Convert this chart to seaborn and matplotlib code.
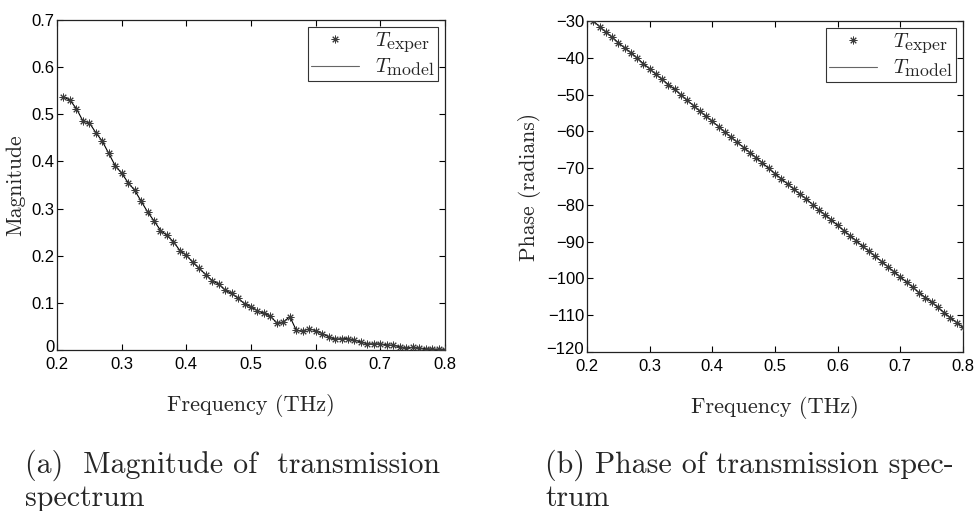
import matplotlib
matplotlib.use("Agg")
import matplotlib.pyplot as plt
import matplotlib._mathtext as _mt
from matplotlib.transforms import ScaledTranslation
import seaborn as sns
import pandas as pd

freq = [0.21, 0.22, 0.23, 0.24, 0.25, 0.26, 0.27, 0.28, 0.29, 0.30,
        0.31, 0.32, 0.33, 0.34, 0.35, 0.36, 0.37, 0.38, 0.39, 0.40,
        0.41, 0.42, 0.43, 0.44, 0.45, 0.46, 0.47, 0.48, 0.49, 0.50,
        0.51, 0.52, 0.53, 0.54, 0.55, 0.56, 0.57, 0.58, 0.59, 0.60,
        0.61, 0.62, 0.63, 0.64, 0.65, 0.66, 0.67, 0.68, 0.69, 0.70,
        0.71, 0.72, 0.73, 0.74, 0.75, 0.76, 0.77, 0.78, 0.79, 0.80]

mag_exper = [0.537, 0.530, 0.512, 0.485, 0.482, 0.461, 0.443, 0.417, 0.390, 0.375,
             0.355, 0.339, 0.316, 0.293, 0.274, 0.253, 0.243, 0.230, 0.211, 0.201,
             0.186, 0.173, 0.160, 0.147, 0.140, 0.127, 0.120, 0.110, 0.098, 0.092,
             0.083, 0.078, 0.072, 0.057, 0.059, 0.071, 0.042, 0.040, 0.045, 0.041,
             0.035, 0.028, 0.023, 0.024, 0.024, 0.021, 0.017, 0.013, 0.013, 0.013,
             0.011, 0.010, 0.007, 0.004, 0.006, 0.004, 0.003, 0.002, 0.002, 0.001]
mag_model = [0.537, 0.530, 0.512, 0.486, 0.482, 0.461, 0.443, 0.417, 0.391, 0.375,
             0.355, 0.339, 0.316, 0.293, 0.274, 0.254, 0.243, 0.230, 0.211, 0.201,
             0.186, 0.173, 0.160, 0.147, 0.140, 0.127, 0.120, 0.110, 0.098, 0.092,
             0.083, 0.078, 0.072, 0.057, 0.059, 0.071, 0.042, 0.040, 0.045, 0.041,
             0.035, 0.028, 0.023, 0.024, 0.024, 0.021, 0.017, 0.013, 0.013, 0.013,
             0.011, 0.010, 0.007, 0.004, 0.006, 0.004, 0.003, 0.002, 0.002, 0.001]

phase_exper = [-30.0, -31.5, -33.0, -34.4, -35.9, -37.3, -38.6, -40.1, -41.6, -43.0,
               -44.5, -45.9, -47.3, -48.6, -50.1, -51.6, -53.0, -54.5, -55.9, -57.3,
               -58.7, -60.2, -61.6, -63.0, -64.4, -65.8, -67.2, -68.6, -70.1, -71.5,
               -72.9, -74.3, -75.7, -77.1, -78.4, -79.9, -81.4, -82.7, -84.1, -85.6,
               -87.0, -88.4, -89.8, -91.3, -92.6, -94.0, -95.4, -96.8, -98.2, -99.6,
               -101.0, -102.4, -103.9, -105.2, -106.4, -107.9, -109.3, -110.7, -112.0, -113.3]
phase_model = [-30.0, -31.5, -33.0, -34.4, -35.9, -37.3, -38.6, -40.1, -41.6, -43.0,
               -44.5, -45.9, -47.3, -48.6, -50.1, -51.6, -53.0, -54.5, -55.9, -57.3,
               -58.7, -60.2, -61.6, -63.0, -64.4, -65.8, -67.2, -68.6, -70.1, -71.5,
               -72.9, -74.3, -75.7, -77.1, -78.4, -79.9, -81.4, -82.7, -84.1, -85.6,
               -87.0, -88.4, -89.8, -91.3, -92.6, -94.0, -95.4, -96.8, -98.2, -99.6,
               -101.0, -102.4, -103.9, -105.2, -106.4, -107.9, -109.3, -110.7, -112.0, -113.3]

mag_yticks = [0, 0.1, 0.2, 0.3, 0.4, 0.5, 0.6, 0.7]
mag_yticklabels = ["0", "0.1", "0.2", "0.3", "0.4", "0.5", "0.6", "0.7"]
phase_yticks = [-120, -110, -100, -90, -80, -70, -60, -50, -40, -30]
phase_yticklabels = ["\u2212120", "\u2212110", "\u2212100", "\u221290", "\u221280",
                     "\u221270", "\u221260", "\u221250", "\u221240", "\u221230"]
xticks = [0.2, 0.3, 0.4, 0.5, 0.6, 0.7, 0.8]
xticklabels = ["0.2", "0.3", "0.4", "0.5", "0.6", "0.7", "0.8"]

label_exper = r"$T_{\mathrm{exper}}$"
label_model = r"$T_{\mathrm{model}}$"
xlabel = "Frequency (THz)"
ylabel_mag = "Magnitude"
ylabel_phase = "Phase (radians)"
caption_a = ["(a)  Magnitude of  transmission", "spectrum"]
caption_b = ["(b) Phase of transmission spec-", "trum"]

# larger subscripts, closer to the reference legend look
_mt.SHRINK_FACTOR = 0.88

sns.set_style("ticks")
plt.rcParams["font.family"] = ["Liberation Sans", "DejaVu Sans"]
plt.rcParams["mathtext.fontset"] = "cm"

fig = plt.figure(figsize=(9.76, 5.11), dpi=100)
ax1 = fig.add_axes([57 / 976, 1 - 350 / 511, 388 / 976, 330 / 511])
ax2 = fig.add_axes([587 / 976, 1 - 352 / 511, 376 / 976, 331 / 511])

df_mag = pd.DataFrame({"f": freq, "exper": mag_exper, "model": mag_model})
df_ph = pd.DataFrame({"f": freq, "exper": phase_exper, "model": phase_model})

asterisk = (8, 2, 0)
serif = "cmr10"

for ax, df, yt, ytl, ylim, yl in [
    (ax1, df_mag, mag_yticks, mag_yticklabels, (0, 0.7), ylabel_mag),
    (ax2, df_ph, phase_yticks, phase_yticklabels, (-120, -30), ylabel_phase),
]:
    sns.lineplot(data=df, x="f", y="exper", ax=ax, marker=asterisk, linestyle="",
                 markersize=5.5, markeredgewidth=0.7, color="#3a3a3a",
                 markeredgecolor="#3a3a3a", label=label_exper, zorder=3)
    sns.lineplot(data=df, x="f", y="model", ax=ax, color="black", linewidth=0.8,
                 label=label_model, zorder=2)
    ax.set_xlim(0.2, 0.8)
    ax.set_ylim(*ylim)
    ax.set_xticks(xticks)
    ax.set_xticklabels(xticklabels)
    ax.set_yticks(yt)
    ax.set_yticklabels(ytl)
    ax.tick_params(direction="in", top=True, right=True, length=4, width=0.8,
                   labelsize=12, colors="black", pad=2)
    ax.tick_params(axis="x", pad=5)
    # nudge the lowest y tick label up a little so it clears the x tick labels
    low = ax.get_yticklabels()[0]
    low.set_transform(low.get_transform() + ScaledTranslation(0, 3 / 72, fig.dpi_scale_trans))
    for s in ax.spines.values():
        s.set_visible(True)
        s.set_color("#222222")
        s.set_linewidth(0.9)
    ax.set_xlabel(xlabel, family=serif, fontsize=16, labelpad=16)
    ax.set_ylabel(yl, family=serif, fontsize=15.5, labelpad=4)
    handles, labels = ax.get_legend_handles_labels()
    leg = ax.legend(handles, labels, loc="upper right", fontsize=14.5, frameon=True,
                    fancybox=False, edgecolor="#333333", framealpha=1,
                    borderpad=0.15, handlelength=2.4, handletextpad=0.8,
                    labelspacing=0.15, borderaxespad=0.35)
    leg.get_frame().set_linewidth(0.8)
    for h in leg.legend_handles:
        h.set_color("#666666")

cap_kw = dict(family=serif, fontsize=21.5, va="center", ha="left")
fig.text(25 / 976, 1 - 465 / 511, caption_a[0], **cap_kw)
fig.text(25 / 976, 1 - 498 / 511, caption_a[1], **cap_kw)
fig.text(545 / 976, 1 - 465 / 511, caption_b[0], **cap_kw)
fig.text(545 / 976, 1 - 498 / 511, caption_b[1], **cap_kw)

fig.savefig("out.png", dpi=100, facecolor="white")
